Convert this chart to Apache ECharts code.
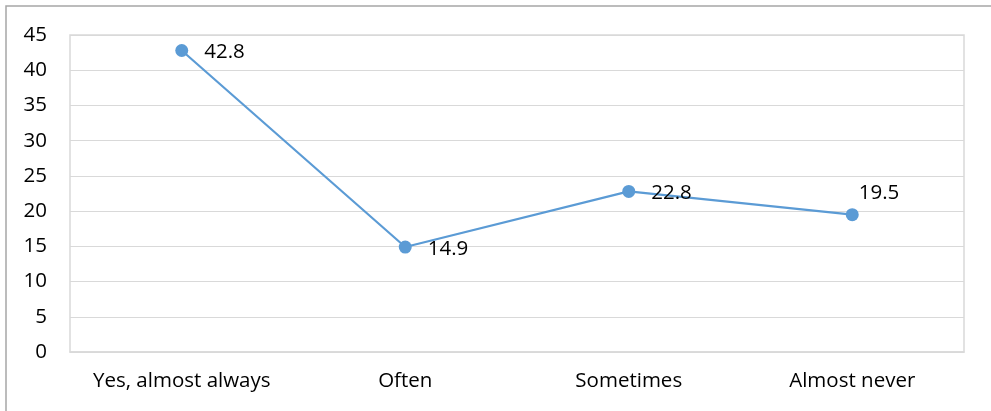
<!DOCTYPE html>
<html>
<head>
<meta charset="utf-8">
<style>
  html, body { margin: 0; padding: 0; background: #ffffff; }
  #chart { width: 991px; height: 411px; }
</style>
<script src="https://cdn.jsdelivr.net/npm/echarts@6/dist/echarts.min.js"></script>
</head>
<body>
<div id="chart"></div>
<script>
// Responses per answer category (percent)
const categories = ['Yes, almost always', 'Often', 'Sometimes', 'Almost never'];
const values = [42.8, 14.9, 22.8, 19.5];
const yTicks = [0, 5, 10, 15, 20, 25, 30, 35, 40, 45];

const lineColor = '#5B9BD5';
const fontFamily = '"Open Sans", "Noto Sans", sans-serif';
const fontSize = 20.5;

const seriesData = values.map(function (v, i) {
  const item = { value: v };
  if (i === values.length - 1) {
    // last label sits above-right of its marker
    item.label = { offset: [-16, -21] };
  }
  return item;
});

const chart = echarts.init(document.getElementById('chart'), null, { renderer: 'canvas' });
chart.setOption({
  animation: false,
  backgroundColor: '#ffffff',
  graphic: [{
    type: 'rect',
    shape: { x: 6, y: 6, width: 1000, height: 420 },
    style: { fill: 'none', stroke: '#a6a6a6', lineWidth: 1.5 },
    z: 0
  }, {
    type: 'rect',
    shape: { x: 70, y: 35, width: 894, height: 317 },
    style: { fill: 'none', stroke: '#d9d9d9', lineWidth: 1.5 },
    z: 1
  }],
  grid: { left: 70, top: 35, width: 894, height: 317 },
  xAxis: {
    type: 'category',
    data: categories,
    boundaryGap: true,
    axisLine: { show: true, lineStyle: { color: '#d9d9d9', width: 1.5 } },
    axisTick: { show: false },
    axisLabel: { interval: 0, hideOverlap: false, color: '#000000', fontSize: fontSize, fontFamily: fontFamily, margin: 19 },
    splitLine: { show: false }
  },
  yAxis: {
    type: 'value',
    min: yTicks[0],
    max: yTicks[yTicks.length - 1],
    interval: 5,
    axisLine: { show: false },
    axisTick: { show: false },
    axisLabel: { color: '#000000', fontSize: fontSize, fontFamily: fontFamily, margin: 23 },
    splitLine: { show: true, lineStyle: { color: '#d9d9d9', width: 1.2 } }
  },
  series: [{
    type: 'line',
    data: seriesData,
    symbol: 'circle',
    symbolSize: 13,
    lineStyle: { color: lineColor, width: 2.2 },
    itemStyle: { color: lineColor },
    label: {
      show: true,
      position: 'right',
      distance: 16,
      color: '#000000',
      fontSize: fontSize,
      fontFamily: fontFamily,
      offset: [0, 2]
    }
  }]
});
</script>
</body>
</html>
